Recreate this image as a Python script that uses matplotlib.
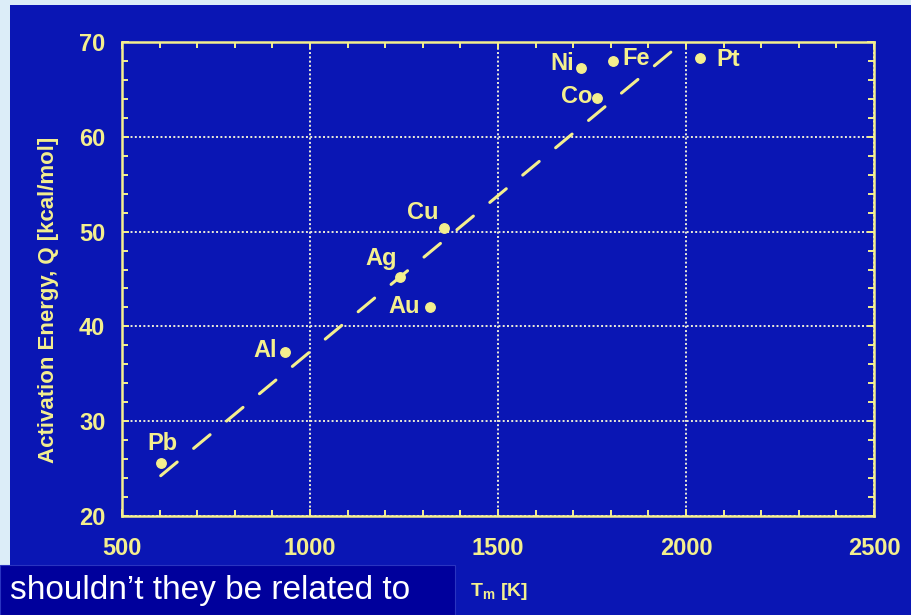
import matplotlib
matplotlib.use("Agg")
import matplotlib.pyplot as plt
from matplotlib.patches import Rectangle
from matplotlib.ticker import MultipleLocator

plt.rcParams['font.family'] = ['Liberation Sans', 'DejaVu Sans']
plt.rcParams['mathtext.fontset'] = 'custom'
plt.rcParams['mathtext.rm'] = 'Liberation Sans:bold'
plt.rcParams['mathtext.bf'] = 'Liberation Sans:bold'

# melting temperature [K] and activation energy [kcal/mol]
metals = ['Pb', 'Al', 'Ag', 'Au', 'Cu', 'Ni', 'Co', 'Fe', 'Pt']
tm = [603, 933, 1239, 1319, 1356, 1721, 1762, 1805, 2037]
q = [25.6, 37.3, 45.2, 42.0, 50.4, 67.3, 64.1, 68.0, 68.3]

# straight-line trend through the points
fit_tm = [603, 1992]
fit_q = [24.25, 70.0]

# label offsets in points and alignment for each metal
label_pos = {
    'Pb': (1, 14, 'center', 'center'),
    'Al': (-6, 1, 'right', 'center'),
    'Ag': (-2, 5, 'right', 'bottom'),
    'Au': (-7, 1, 'right', 'center'),
    'Cu': (-4, 3, 'right', 'bottom'),
    'Ni': (-5, 3, 'right', 'center'),
    'Co': (-3, 1, 'right', 'center'),
    'Fe': (7, 2, 'left', 'center'),
    'Pt': (12, -1, 'left', 'center'),
}

yellow = '#f4ef8e'
panel = '#0a16b4'
box = '#00009c'

fig = plt.figure(figsize=(9.12, 6.15), dpi=100)
fig.patch.set_facecolor('#dcedf8')
fig.patches.append(Rectangle((10 / 912, 0), 1, 610 / 615, transform=fig.transFigure,
                             facecolor=panel, edgecolor='none', zorder=-2))
fig.patches.append(Rectangle((0, 0), 455 / 912, 50 / 615, transform=fig.transFigure,
                             facecolor=box, edgecolor='#2a34c0', linewidth=0.8, zorder=-1))

ax = fig.add_axes([122 / 912, 99 / 615, 752 / 912, 474 / 615])
ax.set_facecolor(panel)

ax.plot(fit_tm, fit_q, color=yellow, linewidth=2.2, dashes=(7, 7),
        dash_capstyle='round', zorder=3)
ax.plot(tm, q, 'o', color=yellow, markersize=6.8, zorder=4)

for name, x, y in zip(metals, tm, q):
    dx, dy, ha, va = label_pos[name]
    ax.annotate(name, (x, y), xytext=(dx, dy), textcoords='offset points',
                ha=ha, va=va, color=yellow, fontsize=17, fontweight='bold', zorder=5)

ax.set_xlim(500, 2500)
ax.set_ylim(20, 70)
ax.xaxis.set_major_locator(MultipleLocator(500))
ax.xaxis.set_minor_locator(MultipleLocator(100))
ax.yaxis.set_major_locator(MultipleLocator(10))
ax.yaxis.set_minor_locator(MultipleLocator(2))

ax.grid(True, which='major', color='#ececd8', linestyle=(0, (1, 1.2)), linewidth=1.4, zorder=1)

for s in ax.spines.values():
    s.set_color(yellow)
    s.set_linewidth(1.8)

ax.tick_params(which='both', direction='in', top=True, right=True, color=yellow,
               labelcolor=yellow, width=1.4)
ax.tick_params(which='major', length=5, pad=12, labelsize=17)
ax.tick_params(which='minor', length=4.5)
ax.tick_params(axis='x', which='major', pad=15)
for t in ax.get_xticklabels() + ax.get_yticklabels():
    t.set_fontweight('bold')

ax.set_ylabel('Activation Energy, Q [kcal/mol]', color=yellow, fontsize=16,
              fontweight='bold')
ax.yaxis.set_label_coords(-0.084, 0.456)

fig.text(470 / 912, 1 - 592 / 615, r'$\mathbf{T_m}$ [K]', color=yellow, fontsize=14,
         fontweight='bold', ha='left', va='center')

fig.text(10 / 912, 1 - 590 / 615, 'shouldn\u2019t they be related to', color='white',
         fontsize=24, ha='left', va='center')

fig.savefig('out.png', dpi=100, facecolor=fig.get_facecolor())
